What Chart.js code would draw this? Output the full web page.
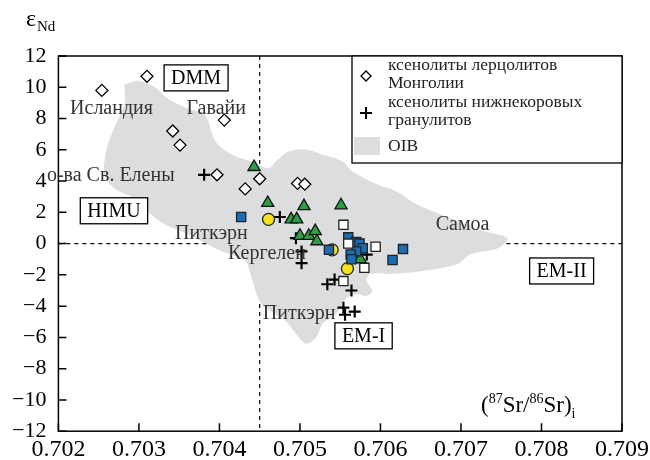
<!DOCTYPE html>
<html>
<head>
<meta charset="utf-8">
<script src="https://cdn.jsdelivr.net/npm/chart.js@4"></script>
<style>
  body { margin: 0; background: #fff; }
  #wrap { width: 650px; height: 460px; }
</style>
</head>
<body>
<div id="wrap"><canvas id="myChart"></canvas></div>
<script>
const xTicks = [0.702, 0.703, 0.704, 0.705, 0.706, 0.707, 0.708, 0.709];
const yTicks = [-12, -10, -8, -6, -4, -2, 0, 2, 4, 6, 8, 10, 12];

// OIB field outline
const oib = [
  [0.70282, 10.16], [0.70298, 10.41], [0.70319, 10.03], [0.70336, 9.27], [0.70361, 8.63],
  [0.70382, 8.25], [0.70395, 6.53], [0.70415, 5.70], [0.70440, 5.25], [0.70461, 4.81],
  [0.70470, 5.25], [0.70486, 5.89], [0.70507, 6.02], [0.70528, 5.70], [0.70553, 5.25],
  [0.70565, 4.62], [0.70595, 3.79], [0.70620, 3.34], [0.70645, 2.52], [0.70687, 1.62],
  [0.70728, 0.80], [0.70758, 0.35], [0.70746, -0.29], [0.70712, -0.67], [0.70696, -1.31],
  [0.70653, -1.75], [0.70612, -1.94], [0.70587, -1.94], [0.70583, -2.39], [0.70590, -3.03],
  [0.70583, -3.34], [0.70570, -3.22], [0.70558, -3.47], [0.70545, -4.49], [0.70528, -5.13],
  [0.70520, -6.02], [0.70507, -6.40], [0.70495, -5.76], [0.70482, -4.94], [0.70452, -3.85],
  [0.70440, -2.20], [0.70432, -1.11], [0.70402, -0.48], [0.70361, 0.61], [0.70332, 1.24],
  [0.70310, 2.07], [0.70294, 2.90], [0.70269, 3.54], [0.70257, 4.43], [0.70260, 6.08],
  [0.70269, 7.36], [0.70282, 8.89], [0.70282, 10.16]
];
const mongolia = [
  [0.70310, 10.7], [0.70254, 9.8], [0.70406, 7.9], [0.70342, 7.2], [0.70351, 6.3],
  [0.70397, 4.4], [0.70432, 3.5], [0.70450, 4.15], [0.70497, 3.85], [0.70506, 3.8]
];
const granulites = [
  [0.70381, 4.4], [0.70475, 1.7], [0.70495, 0.35], [0.70502, -0.5], [0.70502, -1.25],
  [0.70583, -0.7], [0.70534, -2.6], [0.70543, -2.3], [0.70564, -3.0], [0.70554, -4.1],
  [0.70556, -4.55], [0.70568, -4.35]
];
const blueSquares = [
  [0.70427, 1.7], [0.70560, 0.4], [0.70570, 0.1], [0.70574, 0.0], [0.70578, -0.3],
  [0.70570, -0.5], [0.70563, -0.7], [0.70564, -1.0], [0.70536, -0.4], [0.70628, -0.35],
  [0.70615, -1.05]
];
const whiteSquares = [
  [0.70554, 1.2], [0.70560, 0.0], [0.70594, -0.2], [0.70580, -1.55], [0.70554, -2.4]
];
const greenTriangles = [
  [0.70443, 4.9], [0.70460, 2.6], [0.70505, 2.4], [0.70551, 2.45], [0.70489, 1.55],
  [0.70496, 1.55], [0.70500, 0.5], [0.70511, 0.5], [0.70519, 0.8], [0.70521, 0.15],
  [0.70575, -1.0]
];
const yellowCircles = [[0.70461, 1.55], [0.70540, -0.4], [0.70559, -1.6]];

const labels = [
  { t: 'DMM', x: 0.70371, y: 10.6, box: true },
  { t: 'Исландия', x: 0.70266, y: 8.7 },
  { t: 'Гавайи', x: 0.70396, y: 8.7 },
  { t: 'о-ва Св. Елены', x: 0.70265, y: 4.4 },
  { t: 'HIMU', x: 0.70269, y: 2.1, box: true },
  { t: 'Питкэрн', x: 0.70390, y: 0.67 },
  { t: 'Кергелен', x: 0.70459, y: -0.6 },
  { t: 'Питкэрн', x: 0.70499, y: -4.4 },
  { t: 'EM-I', x: 0.70579, y: -5.9, box: true },
  { t: 'Самоа', x: 0.70702, y: 1.3 },
  { t: 'EM-II', x: 0.70825, y: -1.75, box: true }
];

const FONT = 'Liberation Serif, Times New Roman, serif';
const pts = (a) => a.map(p => ({ x: p[0], y: p[1] }));

const overlay = {
  id: 'overlay',
  beforeDatasetsDraw(chart) {
    const { ctx, chartArea: a, scales: { x, y } } = chart;
    ctx.save();
    ctx.strokeStyle = '#000';
    ctx.lineWidth = 1.2;
    ctx.setLineDash([4, 4]);
    ctx.beginPath();
    ctx.moveTo(x.getPixelForValue(0.7045), a.top);
    ctx.lineTo(x.getPixelForValue(0.7045), a.bottom);
    ctx.moveTo(a.left, y.getPixelForValue(0));
    ctx.lineTo(a.right, y.getPixelForValue(0));
    ctx.stroke();
    ctx.restore();
  },
  afterDatasetsDraw(chart) {
    const { ctx, chartArea: a, scales: { x, y } } = chart;
    ctx.save();
    // frame and inner ticks
    ctx.strokeStyle = '#000';
    ctx.lineWidth = 1.5;
    ctx.strokeRect(a.left, a.top, a.right - a.left, a.bottom - a.top);
    ctx.beginPath();
    xTicks.forEach(v => { const px = x.getPixelForValue(v); ctx.moveTo(px, a.bottom); ctx.lineTo(px, a.bottom - 8); });
    yTicks.forEach(v => { const py = y.getPixelForValue(v); ctx.moveTo(a.left, py); ctx.lineTo(a.left + 8, py); });
    ctx.stroke();

    // text labels
    ctx.font = '20px ' + FONT;
    ctx.textAlign = 'center';
    ctx.textBaseline = 'middle';
    labels.forEach(l => {
      const px = x.getPixelForValue(l.x), py = y.getPixelForValue(l.y);
      if (l.box) {
        const w = ctx.measureText(l.t).width + 14;
        ctx.fillStyle = '#fff';
        ctx.fillRect(px - w / 2, py - 13, w, 26);
        ctx.lineWidth = 1.3;
        ctx.strokeRect(px - w / 2, py - 13, w, 26);
        ctx.fillStyle = '#000';
      } else {
        ctx.fillStyle = '#333';
      }
      ctx.fillText(l.t, px, py + 1);
    });

    // axis titles
    ctx.fillStyle = '#000';
    ctx.textAlign = 'left';
    ctx.font = '24px ' + FONT;
    ctx.fillText('ε', 26, 20);
    ctx.font = '15px ' + FONT;
    ctx.fillText('Nd', 37, 27);
    let tx = 481, ty = y.getPixelForValue(-10.4);
    const seg = (s, f, dy) => { ctx.font = f + 'px ' + FONT; ctx.fillText(s, tx, ty + dy); tx += ctx.measureText(s).width; };
    seg('(', 23, 0); seg('87', 14, -7); seg('Sr/', 23, 0); seg('86', 14, -7); seg('Sr)', 23, 0); seg('i', 14, 8);

    // legend
    const lx = 352, ly = a.top, lw = a.right - lx, lh = 107;
    ctx.fillStyle = '#fff';
    ctx.fillRect(lx, ly, lw, lh);
    ctx.lineWidth = 1.3;
    ctx.strokeRect(lx, ly, lw, lh);
    ctx.fillStyle = '#222';
    ctx.font = '17.5px ' + FONT;
    ctx.fillText('ксенолиты лерцолитов', 388, ly + 9);
    ctx.fillText('Монголии', 388, ly + 27);
    ctx.fillText('ксенолиты нижнекоровых', 388, ly + 46);
    ctx.fillText('гранулитов', 388, ly + 64);
    ctx.fillText('OIB', 388, ly + 90);
    ctx.strokeStyle = '#000';
    ctx.lineWidth = 1.3;
    ctx.beginPath();
    ctx.moveTo(366, ly + 15); ctx.lineTo(371, ly + 20); ctx.lineTo(366, ly + 25); ctx.lineTo(361, ly + 20); ctx.closePath();
    ctx.stroke();
    ctx.lineWidth = 2;
    ctx.beginPath();
    ctx.moveTo(360, ly + 57); ctx.lineTo(372, ly + 57); ctx.moveTo(366, ly + 51); ctx.lineTo(366, ly + 63);
    ctx.stroke();
    ctx.fillStyle = '#dcdddf';
    ctx.fillRect(354, ly + 81, 26, 18);
    ctx.restore();
  }
};

const ctx = document.getElementById('myChart').getContext('2d');
new Chart(ctx, {
  type: 'scatter',
  data: {
    datasets: [
      { label: 'OIB', data: pts(oib), showLine: true, fill: 'shape', backgroundColor: '#dcdddf',
        borderWidth: 0, borderColor: 'rgba(0,0,0,0)', pointRadius: 0, tension: 0.3, order: 10 },
      { label: 'Монголии', data: pts(mongolia), pointStyle: 'rectRot', pointRadius: 6,
        backgroundColor: '#fff', borderColor: '#000', borderWidth: 1.3 },
      { data: pts(whiteSquares), pointStyle: 'rect', pointRadius: 6.5,
        backgroundColor: '#fff', borderColor: '#222', borderWidth: 1.3 },
      { data: pts(blueSquares), pointStyle: 'rect', pointRadius: 6.5,
        backgroundColor: '#1b6db3', borderColor: '#222', borderWidth: 1.3 },
      { data: pts(greenTriangles), pointStyle: 'triangle', pointRadius: 7,
        backgroundColor: '#2a9f45', borderColor: '#111', borderWidth: 1.3 },
      { data: pts(yellowCircles), pointStyle: 'circle', pointRadius: 6,
        backgroundColor: '#f6e41b', borderColor: '#222', borderWidth: 1.3 },
      { label: 'гранулитов', data: pts(granulites), pointStyle: 'cross', pointRadius: 6,
        borderColor: '#000', borderWidth: 2.2 }
    ]
  },
  options: {
    responsive: true,
    maintainAspectRatio: false,
    animation: false,
    layout: { padding: { top: 56, right: 28, left: 8, bottom: 0 } },
    plugins: { legend: { display: false }, tooltip: { enabled: false } },
    scales: {
      x: {
        type: 'linear', min: 0.702, max: 0.709,
        afterBuildTicks: (s) => { s.ticks = xTicks.map(v => ({ value: v })); },
        grid: { display: false }, border: { display: false },
        ticks: { color: '#000', font: { family: FONT, size: 24 }, padding: -4,
          autoSkip: false, maxRotation: 0, callback: (v) => v.toFixed(3) }
      },
      y: {
        min: -12, max: 12,
        afterBuildTicks: (s) => { s.ticks = yTicks.map(v => ({ value: v })); },
        grid: { display: false }, border: { display: false },
        ticks: { color: '#000', font: { family: FONT, size: 22 }, padding: 4, autoSkip: false,
          callback: (v) => v < 0 ? '\u2212' + Math.abs(v) : String(v) }
      }
    }
  },
  plugins: [overlay]
});
</script>
</body>
</html>
